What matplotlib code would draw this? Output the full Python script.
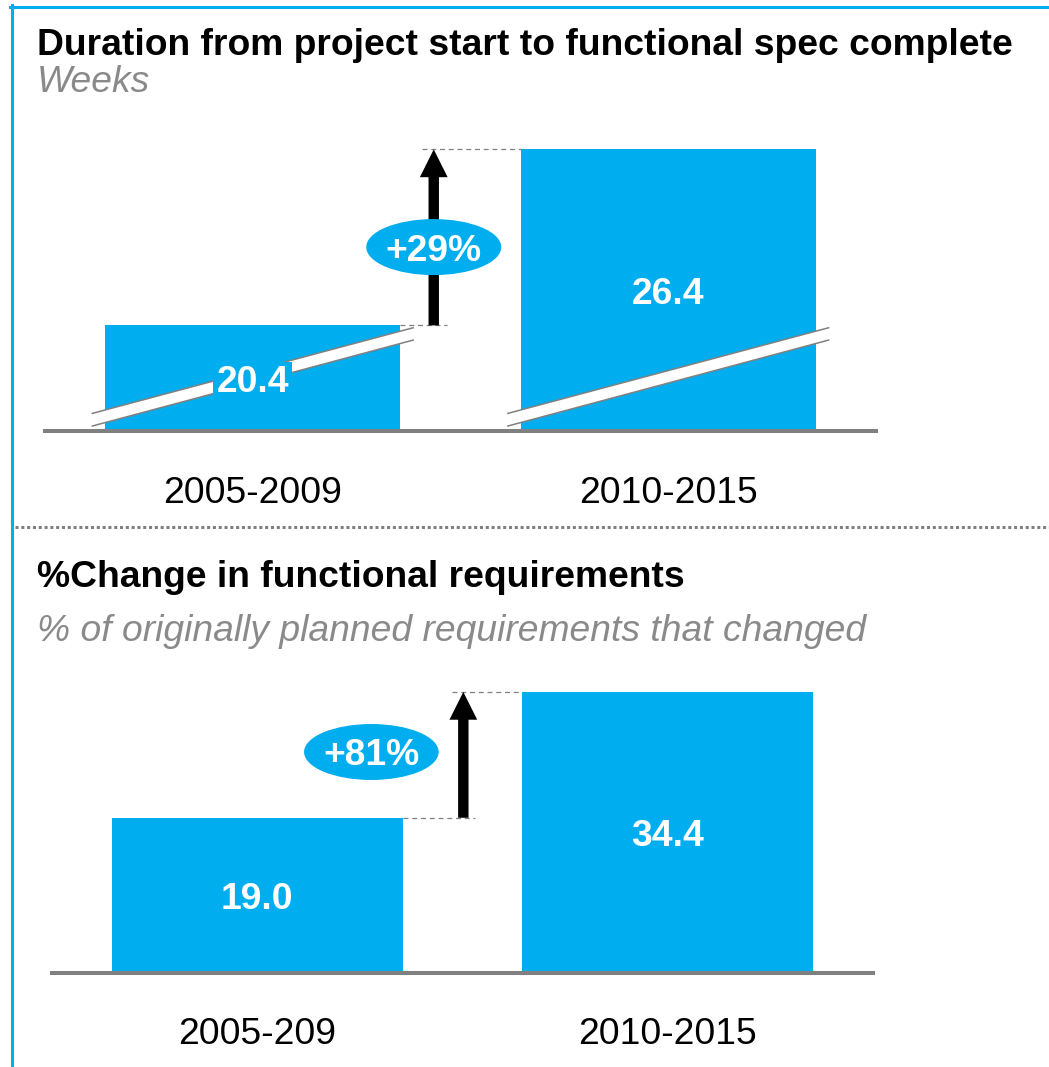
import matplotlib
matplotlib.use("Agg")
import matplotlib.pyplot as plt
import matplotlib.transforms as mtransforms
from matplotlib.patches import Ellipse, Polygon, FancyArrowPatch, ArrowStyle
from matplotlib.lines import Line2D

# ---------------- data ----------------
periods_top = ["2005-2009", "2010-2015"]
weeks = [20.4, 26.4]
periods_bottom = ["2005-209", "2010-2015"]
pct_changed = [19.0, 34.4]

title_top = "Duration from project start to functional spec complete"
subtitle_top = "Weeks"
title_bottom = "%Change in functional requirements"
subtitle_bottom = "% of originally planned requirements that changed"

# ---------------- style ----------------
BLUE = "#00AEEF"
GRAY = "#808080"
SUBGRAY = "#8A8A8A"
FONT = "Liberation Sans"
FS = 26.8

W, H = 1049, 1067
fig = plt.figure(figsize=(W / 100, H / 100), dpi=100)
fig.patch.set_facecolor("white")


def fx(x):
    return x / W


def fy(y):
    return 1 - y / H


# frame lines (left + top) and dotted separator
fig.add_artist(Line2D([fx(11.5), fx(11.5)], [fy(5), fy(1067)], color=BLUE, lw=2.2,
                      transform=fig.transFigure))
fig.add_artist(Line2D([fx(10), fx(1049)], [fy(6.5), fy(6.5)], color=BLUE, lw=2.2,
                      transform=fig.transFigure))
fig.add_artist(Line2D([fx(15), fx(1049)], [fy(527), fy(527)], color=GRAY, lw=2.2,
                      linestyle=(0, (1, 0.9)), transform=fig.transFigure))

# titles
fig.text(fx(37), fy(55), title_top, fontsize=FS, fontweight="bold", family=FONT,
         color="black", va="baseline", ha="left")
fig.text(fx(37), fy(92), subtitle_top, fontsize=FS, style="italic", family=FONT,
         color=SUBGRAY, va="baseline", ha="left")
fig.text(fx(37), fy(587), title_bottom, fontsize=FS, fontweight="bold", family=FONT,
         color="black", va="baseline", ha="left")
fig.text(fx(37), fy(641), subtitle_bottom, fontsize=FS, style="italic", family=FONT,
         color=SUBGRAY, va="baseline", ha="left")

BAR_W = 0.71
xs = [0, 1]


def panel(rect, values, cats, base, ytop, arrow_x, dash_lo, dash_hi, ell, break_axis,
          cat_baseline_px):
    ax = fig.add_axes(rect)
    ax.set_xlim(-0.5, 1.5)
    ax.set_ylim(base, ytop)
    ax.axis("off")
    ax.bar(xs, [v - base for v in values], bottom=base, width=BAR_W, color=BLUE,
           zorder=2, linewidth=0)
    ax.axhline(base, color=GRAY, lw=2.9, zorder=6, clip_on=False)

    # broken-axis marks
    if break_axis:
        for c in xs:
            x0, x1 = c - 0.386, c + 0.386
            up0, up1 = base + 0.60, base + 3.52
            lo0, lo1 = base + 0.17, base + 3.10
            ax.add_patch(Polygon([[x0, lo0], [x1, lo1], [x1, up1], [x0, up0]],
                                 closed=True, facecolor="white", edgecolor="none",
                                 zorder=3))
            ax.plot([x0, x1], [up0, up1], color=GRAY, lw=1.1, zorder=3.5)
            ax.plot([x0, x1], [lo0, lo1], color=GRAY, lw=1.1, zorder=3.5)

    # value labels in bar middle
    for c, v in zip(xs, values):
        ax.annotate(f"{v:.1f}", xy=(c, (base + v) / 2), xytext=(0, -9.7),
                    textcoords="offset points", ha="center", va="baseline",
                    fontsize=FS, fontweight="bold", family=FONT, color="white",
                    zorder=5,
                    bbox=dict(boxstyle="square,pad=0.08", facecolor=BLUE,
                              edgecolor="none"))

    # dashed guide lines
    ax.plot(dash_lo, [values[0]] * 2, color=GRAY, lw=0.9, linestyle=(0, (4, 3)),
            zorder=3)
    ax.plot(dash_hi, [values[1]] * 2, color=GRAY, lw=0.9, linestyle=(0, (4, 3)),
            zorder=3)

    # arrow
    arr = FancyArrowPatch((arrow_x, values[0]), (arrow_x, values[1]),
                          arrowstyle=ArrowStyle("Simple", head_length=1.6,
                                                head_width=1.6, tail_width=0.6),
                          mutation_scale=12.5, shrinkA=0, shrinkB=0,
                          facecolor="black", edgecolor="none", lw=0, zorder=4)
    ax.add_patch(arr)

    # change bubble
    ex, ey, ew, eh = ell
    ax.add_patch(Ellipse((ex, ey), ew, eh, facecolor=BLUE, edgecolor="none",
                         zorder=5))
    change = round((values[1] / values[0] - 1) * 100)
    ax.annotate(f"+{change}%", xy=(ex, ey), xytext=(0, -9.7),
                textcoords="offset points", ha="center", va="baseline",
                fontsize=FS, fontweight="bold", family=FONT, color="white",
                zorder=6)

    # category labels
    tr = mtransforms.blended_transform_factory(ax.transData, fig.transFigure)
    for c, lab in zip(xs, cats):
        ax.text(c, cat_baseline_px, lab, transform=tr, ha="center", va="baseline",
                fontsize=FS, family=FONT, color="black")
    return ax


# top panel (broken axis starting at 16.8)
top_base, top_top = 16.8, 28.0
panel([fx(45), fy(431), (876 - 45) / W, (431 - 102.5) / H], weeks, periods_top,
      top_base, top_top, arrow_x=0.4356,
      dash_lo=[0.354, 0.468], dash_hi=[0.407, 0.645],
      ell=(0.4356, 23.07, 0.325, 1.91), break_axis=True,
      cat_baseline_px=fy(503))

# bottom panel
panel([fx(52), fy(973), (873 - 52) / W, 302.3 / H], pct_changed, periods_bottom,
      0.0, 37.0, arrow_x=0.502,
      dash_lo=[0.356, 0.531], dash_hi=[0.475, 0.645],
      ell=(0.278, 27.05, 0.328, 6.85), break_axis=False,
      cat_baseline_px=fy(1043.5))

fig.savefig("out.png", dpi=100, facecolor="white")
